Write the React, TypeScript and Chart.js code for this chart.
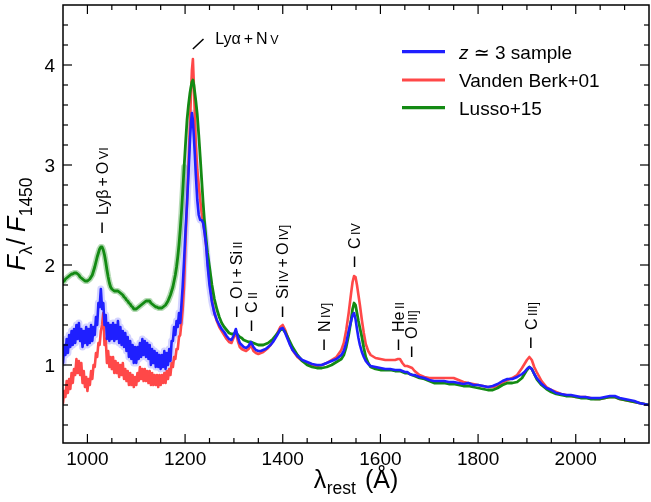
import React, { useEffect, useRef } from 'react';
import { Chart, registerables } from 'chart.js';

Chart.register(...registerables);

const FONT = '"Liberation Sans", Arial, "DejaVu Sans", sans-serif';

// rest-frame wavelength grid (Å)
const wavelengths = [
  950, 952.5, 955, 957.5, 960, 962.5, 965, 967.5, 970, 972.5,
  975, 977.5, 980, 982.5, 985, 987.5, 990, 992.5, 995, 997.5,
  1000, 1002.5, 1005, 1007.5, 1010, 1012.5, 1015, 1017.5, 1020, 1022.5,
  1025, 1027.5, 1030, 1032.5, 1035, 1037.5, 1040, 1042.5, 1045, 1047.5,
  1050, 1052.5, 1055, 1057.5, 1060, 1062.5, 1065, 1067.5, 1070, 1072.5,
  1075, 1077.5, 1080, 1082.5, 1085, 1087.5, 1090, 1092.5, 1095, 1097.5,
  1100, 1102.5, 1105, 1107.5, 1110, 1112.5, 1115, 1117.5, 1120, 1122.5,
  1125, 1127.5, 1130, 1132.5, 1135, 1137.5, 1140, 1142.5, 1145, 1147.5,
  1150, 1152.5, 1155, 1157.5, 1160, 1162.5, 1165, 1167.5, 1170, 1172.5,
  1175, 1177.5, 1180, 1182.5, 1185, 1187.5, 1190, 1192.5, 1195,
  1198, 1201, 1204, 1207, 1210, 1212, 1214, 1216, 1218, 1220,
  1222, 1225, 1228, 1231, 1234, 1237, 1240, 1243, 1246, 1250,
  1255, 1260, 1265, 1270, 1275, 1280, 1285, 1290, 1295, 1300,
  1304, 1308, 1312, 1316, 1320, 1325, 1330, 1335, 1340, 1345,
  1350, 1355, 1360, 1365, 1370, 1375, 1380, 1385, 1390, 1395,
  1400, 1405, 1410, 1415, 1420, 1430, 1440, 1450, 1460, 1470,
  1480, 1490, 1500, 1510, 1520, 1525, 1530, 1535, 1540, 1543,
  1546, 1549, 1552, 1555, 1558, 1562, 1566, 1570, 1575, 1580,
  1590, 1600, 1610, 1620, 1630, 1636, 1640, 1645, 1650, 1655,
  1660, 1665, 1670, 1680, 1690, 1700, 1710, 1720, 1730, 1740,
  1750, 1760, 1770, 1780, 1790, 1800, 1810, 1820, 1830, 1840,
  1850, 1860, 1870, 1880, 1890, 1895, 1900, 1905, 1910, 1915,
  1920, 1930, 1940, 1950, 1960, 1970, 1980, 1990, 2000, 2010,
  2020, 2030, 2040, 2050, 2060, 2070, 2080, 2090, 2100, 2110,
  2120, 2130, 2140, 2150,
];

// z ~ 3 sample composite
const zSample = [
  1.02, 1.20, 1.10, 1.26, 1.12, 1.30, 1.18, 1.34, 1.20, 1.36,
  1.22, 1.40, 1.26, 1.42, 1.24, 1.36, 1.18, 1.34, 1.22, 1.38,
  1.20, 1.36, 1.22, 1.40, 1.24, 1.38, 1.30, 1.48, 1.40, 1.62,
  1.58, 1.76, 1.56, 1.62, 1.40, 1.50, 1.26, 1.42, 1.24, 1.40,
  1.26, 1.42, 1.24, 1.40, 1.26, 1.44, 1.22, 1.38, 1.20, 1.34,
  1.18, 1.32, 1.14, 1.28, 1.08, 1.24, 1.06, 1.20, 1.02, 1.18,
  1.02, 1.18, 1.06, 1.22, 1.08, 1.26, 1.10, 1.24, 1.08, 1.22,
  1.06, 1.20, 1.00, 1.16, 1.02, 1.14, 0.98, 1.12, 0.98, 1.10,
  0.96, 1.10, 0.98, 1.14, 0.96, 1.12, 1.00, 1.16, 1.04, 1.24,
  1.24, 1.38, 1.30, 1.44, 1.38, 1.52, 1.42, 1.60, 1.78,
  2.05, 2.35, 2.62, 2.92, 3.25, 3.42, 3.52, 3.45, 3.28, 3.10,
  2.90, 2.65, 2.50, 2.45, 2.45, 2.42, 2.32, 2.20, 2.00, 1.80,
  1.63, 1.52, 1.45, 1.40, 1.36, 1.33, 1.29, 1.26, 1.25, 1.30,
  1.36, 1.28, 1.22, 1.20, 1.18, 1.17, 1.19, 1.23, 1.18, 1.15,
  1.14, 1.14, 1.15, 1.16, 1.18, 1.20, 1.23, 1.27, 1.31, 1.36,
  1.37, 1.32, 1.26, 1.20, 1.15, 1.09, 1.05, 1.03, 1.01, 1.00,
  1.00, 1.02, 1.04, 1.06, 1.10, 1.14, 1.22, 1.34, 1.44, 1.50,
  1.52, 1.46, 1.36, 1.27, 1.20, 1.13, 1.08, 1.04, 1.01, 0.99,
  0.98, 0.97, 0.96, 0.96, 0.95, 0.95, 0.95, 0.94, 0.93, 0.93,
  0.91, 0.90, 0.90, 0.88, 0.87, 0.85, 0.84, 0.84, 0.84, 0.83,
  0.83, 0.82, 0.81, 0.82, 0.80, 0.80, 0.79, 0.78, 0.79, 0.81,
  0.84, 0.86, 0.86, 0.88, 0.91, 0.93, 0.96, 0.98, 0.96, 0.91,
  0.87, 0.81, 0.77, 0.75, 0.72, 0.71, 0.70, 0.70, 0.69, 0.68,
  0.68, 0.67, 0.67, 0.67, 0.68, 0.69, 0.69, 0.67, 0.66, 0.65,
  0.64, 0.62, 0.61, 0.60,
];

// Vanden Berk et al. (2001) composite
const vandenBerk = [
  0.62, 0.74, 0.68, 0.84, 0.72, 0.86, 0.76, 0.92, 0.82, 0.96,
  0.90, 1.06, 0.92, 1.04, 0.90, 1.02, 0.82, 0.94, 0.78, 0.88,
  0.74, 0.86, 0.80, 0.94, 0.86, 1.00, 0.98, 1.12, 1.08, 1.22,
  1.20, 1.34, 1.40, 1.52, 1.20, 1.26, 1.02, 1.14, 0.98, 1.08,
  0.96, 1.08, 0.92, 1.04, 0.92, 1.02, 0.88, 1.00, 0.90, 1.02,
  0.86, 0.96, 0.84, 0.94, 0.80, 0.92, 0.80, 0.90, 0.78, 0.88,
  0.80, 0.92, 0.84, 0.98, 0.86, 0.96, 0.84, 0.96, 0.84, 0.94,
  0.82, 0.94, 0.80, 0.92, 0.80, 0.90, 0.80, 0.90, 0.78, 0.90,
  0.80, 0.90, 0.82, 0.92, 0.82, 0.94, 0.86, 0.96, 0.90, 1.02,
  0.98, 1.08, 1.06, 1.16, 1.16, 1.28, 1.30, 1.42, 1.55,
  1.80, 2.25, 2.62, 3.00, 3.40, 3.70, 3.95, 4.06, 3.80, 3.50,
  3.20, 2.95, 2.80, 2.65, 2.52, 2.42, 2.33, 2.20, 2.05, 1.85,
  1.65, 1.52, 1.44, 1.38, 1.34, 1.30, 1.26, 1.23, 1.22, 1.28,
  1.33, 1.24, 1.18, 1.16, 1.15, 1.14, 1.16, 1.20, 1.14, 1.12,
  1.11, 1.12, 1.13, 1.15, 1.17, 1.20, 1.24, 1.28, 1.33, 1.38,
  1.40, 1.35, 1.28, 1.21, 1.15, 1.08, 1.04, 1.02, 1.00, 0.99,
  1.00, 1.02, 1.05, 1.08, 1.15, 1.22, 1.35, 1.52, 1.72, 1.83,
  1.89, 1.88, 1.80, 1.70, 1.60, 1.45, 1.32, 1.21, 1.14, 1.10,
  1.07, 1.06, 1.05, 1.05, 1.05, 1.06, 1.06, 1.02, 0.99, 0.99,
  0.98, 0.97, 0.94, 0.90, 0.88, 0.87, 0.87, 0.87, 0.87, 0.87,
  0.87, 0.85, 0.83, 0.82, 0.81, 0.80, 0.79, 0.78, 0.78, 0.79,
  0.82, 0.85, 0.87, 0.90, 0.97, 1.01, 1.05, 1.08, 1.05, 0.98,
  0.93, 0.84, 0.78, 0.75, 0.73, 0.71, 0.70, 0.69, 0.68, 0.68,
  0.68, 0.67, 0.66, 0.66, 0.67, 0.68, 0.68, 0.66, 0.65, 0.64,
  0.63, 0.62, 0.61, 0.60,
];

// Lusso et al. (2015) composite
const lusso = [
  1.83, 1.84, 1.86, 1.87, 1.88, 1.89, 1.90, 1.91, 1.91, 1.92,
  1.92, 1.92, 1.91, 1.90, 1.88, 1.87, 1.86, 1.85, 1.84, 1.84,
  1.84, 1.85, 1.86, 1.88, 1.90, 1.94, 1.98, 2.03, 2.08, 2.12,
  2.16, 2.18, 2.18, 2.15, 2.10, 2.03, 1.95, 1.88, 1.82, 1.78,
  1.76, 1.75, 1.74, 1.74, 1.74, 1.74, 1.73, 1.72, 1.71, 1.70,
  1.68, 1.67, 1.65, 1.64, 1.62, 1.61, 1.59, 1.58, 1.56, 1.56,
  1.56, 1.57, 1.58, 1.59, 1.60, 1.61, 1.62, 1.63, 1.64, 1.64,
  1.64, 1.64, 1.62, 1.61, 1.60, 1.59, 1.58, 1.58, 1.57, 1.57,
  1.57, 1.57, 1.58, 1.59, 1.60, 1.62, 1.64, 1.67, 1.70, 1.74,
  1.78, 1.84, 1.90, 1.98, 2.08, 2.20, 2.35, 2.52, 2.72,
  2.98, 3.22, 3.45, 3.60, 3.72, 3.78, 3.83, 3.85, 3.80, 3.72,
  3.64, 3.50, 3.30, 3.08, 2.85, 2.62, 2.42, 2.26, 2.12, 1.98,
  1.80, 1.66, 1.56, 1.48, 1.42, 1.38, 1.35, 1.32, 1.31, 1.31,
  1.33, 1.30, 1.28, 1.27, 1.25, 1.24, 1.23, 1.23, 1.22, 1.21,
  1.20, 1.20, 1.20, 1.21, 1.22, 1.24, 1.26, 1.29, 1.32, 1.35,
  1.36, 1.33, 1.28, 1.23, 1.18, 1.10, 1.04, 1.00, 0.98, 0.97,
  0.97, 0.98, 1.00, 1.03, 1.06, 1.10, 1.18, 1.30, 1.45, 1.56,
  1.62, 1.60, 1.52, 1.44, 1.37, 1.28, 1.17, 1.08, 1.02, 0.98,
  0.96, 0.95, 0.95, 0.95, 0.94, 0.94, 0.94, 0.93, 0.92, 0.92,
  0.91, 0.90, 0.89, 0.87, 0.86, 0.84, 0.82, 0.82, 0.82, 0.81,
  0.81, 0.80, 0.79, 0.79, 0.78, 0.77, 0.76, 0.75, 0.75, 0.77,
  0.80, 0.82, 0.82, 0.83, 0.87, 0.91, 0.95, 0.98, 0.96, 0.91,
  0.86, 0.80, 0.76, 0.73, 0.71, 0.70, 0.69, 0.69, 0.68, 0.67,
  0.67, 0.66, 0.66, 0.66, 0.67, 0.68, 0.68, 0.66, 0.65, 0.64,
  0.63, 0.62, 0.61, 0.60,
];

const xTickValues = [1000, 1200, 1400, 1600, 1800, 2000];
const yTickValues = [1, 2, 3, 4];
const X_MIN = 950, X_MAX = 2150, Y_MIN = 0.22, Y_MAX = 4.6;

// emission-line annotations
const lineLabels = ['Lyβ + O VI', 'O I + Si II', 'C II', 'Si IV + O IV]', 'N IV]', 'C IV', 'He II', 'O III]', 'C III]'];
const lineWaves = [1030, 1305.7, 1336, 1399.6, 1484.6, 1547, 1637, 1664, 1908];
const lineFluxes = [2.32, 1.48, 1.34, 1.48, 1.15, 1.98, 1.15, 1.08, 1.17];
const lyaLabel = 'Lyα + N V';
const lyaWave = 1216;
const lyaFlux = 4.16;

const legendLabels = ['z ≃ 3 sample', 'Vanden Berk+01', 'Lusso+15'];
const BLUE = '#1f1fff';
const RED = '#ff4848';
const GREEN = '#138a13';
const legendColors = [BLUE, RED, GREEN];

type Seg = { t: string; size: number; italic?: boolean; dy?: number; gap?: number };

const fontOf = (s: Seg) => `${s.italic ? 'italic ' : ''}${s.size}px ${FONT}`;

function measureSegs(ctx: CanvasRenderingContext2D, segs: Seg[]) {
  let w = 0;
  for (const s of segs) {
    ctx.font = fontOf(s);
    w += (s.gap || 0) + ctx.measureText(s.t).width;
  }
  return w;
}

function drawSegs(ctx: CanvasRenderingContext2D, segs: Seg[], x: number, y: number) {
  let cx = x;
  for (const s of segs) {
    cx += s.gap || 0;
    ctx.font = fontOf(s);
    ctx.fillText(s.t, cx, y + (s.dy || 0));
    cx += ctx.measureText(s.t).width;
  }
}

function labelSegs(label: string, big = 16, small = 12.5): Seg[] {
  const toks = label.split(' ');
  const segs: Seg[] = [];
  toks.forEach((tk, i) => {
    const isNum = /^[IVX]+\]?$/.test(tk);
    if (tk === '+') segs.push({ t: '+', size: big, gap: 3 });
    else if (isNum) segs.push({ t: tk, size: small, gap: 2.5 });
    else segs.push({ t: tk, size: big, gap: i === 0 ? 0 : 3 });
  });
  return segs;
}

const decorPlugin = {
  id: 'decor',
  afterDraw(chart: any) {
    const { ctx, chartArea: a, scales } = chart;
    const xs = scales.x, ys = scales.y;
    ctx.save();
    ctx.fillStyle = '#000';
    ctx.strokeStyle = '#000';
    ctx.textAlign = 'left';
    ctx.textBaseline = 'alphabetic';

    // frame
    ctx.lineWidth = 1.5;
    ctx.strokeRect(a.left, a.top, a.right - a.left, a.bottom - a.top);

    // inward ticks on all four sides
    ctx.lineWidth = 1.2;
    const seg = (x1: number, y1: number, x2: number, y2: number) => {
      ctx.beginPath();
      ctx.moveTo(x1, y1);
      ctx.lineTo(x2, y2);
      ctx.stroke();
    };
    for (let v = X_MIN + 50; v < X_MAX; v += 50) {
      const px = xs.getPixelForValue(v);
      const L = xTickValues.includes(v) ? 9 : 5;
      seg(px, a.bottom, px, a.bottom - L);
      seg(px, a.top, px, a.top + L);
    }
    for (let k = 2; k <= 22; k++) {
      const v = k * 0.2;
      const py = ys.getPixelForValue(v);
      const major = Math.abs(v - Math.round(v)) < 1e-6;
      const L = major ? 9 : 5;
      seg(a.left, py, a.left + L, py);
      seg(a.right, py, a.right - L, py);
    }

    // tick labels
    ctx.font = `19px ${FONT}`;
    ctx.textAlign = 'center';
    xTickValues.forEach((v) => {
      ctx.fillText(String(v), xs.getPixelForValue(v), a.bottom + 21.5);
    });
    ctx.textAlign = 'right';
    yTickValues.forEach((v) => {
      ctx.fillText(String(v), a.left - 8, ys.getPixelForValue(v) + 6.8);
    });
    ctx.textAlign = 'left';

    // emission-line labels (rotated)
    ctx.lineWidth = 1.5;
    lineLabels.forEach((lab, i) => {
      const px = xs.getPixelForValue(lineWaves[i]);
      const py = ys.getPixelForValue(lineFluxes[i]);
      seg(px, py, px, py - 10.5);
      ctx.save();
      ctx.translate(px, py - 10.5 - 7.5);
      ctx.rotate(-Math.PI / 2);
      drawSegs(ctx, labelSegs(lab), 0, 16 * 0.358);
      ctx.restore();
    });

    // Lyα label
    {
      const px = xs.getPixelForValue(lyaWave);
      const py = ys.getPixelForValue(lyaFlux);
      seg(px, py, px + 10.6, py - 10);
      drawSegs(ctx, labelSegs(lyaLabel), px + 22.3, py - 5.5);
    }

    // legend
    const legY = [51.7, 80, 107.7];
    legendLabels.forEach((lab, i) => {
      ctx.strokeStyle = legendColors[i];
      ctx.lineWidth = 3.2;
      seg(402, legY[i], 445, legY[i]);
      const base = legY[i] + 19 * 0.36;
      if (i === 0) {
        drawSegs(ctx, [
          { t: 'z', size: 19, italic: true },
          { t: ' ≃ ', size: 19 },
          { t: '3 sample', size: 19 },
        ], 459, base);
      } else {
        drawSegs(ctx, [{ t: lab, size: 19 }], 459, base);
      }
    });

    // y-axis title: F_λ / F_1450
    const ySegs: Seg[] = [
      { t: 'F', size: 25, italic: true },
      { t: 'λ', size: 17.5, dy: 7, gap: 0.5 },
      { t: '/', size: 25, gap: 1 },
      { t: 'F', size: 25, italic: true, gap: 6 },
      { t: '1450', size: 17.5, dy: 7, gap: 0.5 },
    ];
    const yw = measureSegs(ctx, ySegs);
    const cy = (a.top + a.bottom) / 2;
    ctx.save();
    ctx.translate(25, cy + yw / 2);
    ctx.rotate(-Math.PI / 2);
    drawSegs(ctx, ySegs, 0, 0);
    ctx.restore();

    // x-axis title: λ_rest (Å)
    const xSegs: Seg[] = [
      { t: 'λ', size: 25 },
      { t: 'rest', size: 17.5, dy: 6, gap: 0.5 },
      { t: '(Å)', size: 25, gap: 9 },
    ];
    const xw = measureSegs(ctx, xSegs);
    const cx = (a.left + a.right) / 2;
    drawSegs(ctx, xSegs, cx - xw / 2, 488);

    ctx.restore();
  },
};

export default function App() {
  const ref = useRef<HTMLCanvasElement | null>(null);

  useEffect(() => {
    document.body.style.margin = '0';
    const canvas = ref.current;
    if (!canvas) return;
    const pts = (arr: number[]) => wavelengths.map((w, i) => ({ x: w, y: arr[i] }));
    const below = (arr: number[], lim: number) => pts(arr).filter((p) => p.x <= lim);

    const base = {
      pointRadius: 0,
      tension: 0,
      fill: false,
      borderJoinStyle: 'round' as const,
      borderCapStyle: 'round' as const,
    };

    const zeroPad = (s: any) => {
      s.paddingTop = 0;
      s.paddingBottom = 0;
      s.paddingLeft = 0;
      s.paddingRight = 0;
    };

    const chart = new Chart(canvas, {
      type: 'line',
      data: {
        datasets: [
          { ...base, label: legendLabels[0], data: pts(zSample), borderColor: BLUE, borderWidth: 2.6 },
          { ...base, label: legendLabels[2], data: pts(lusso), borderColor: GREEN, borderWidth: 2.8 },
          { ...base, label: legendLabels[1], data: pts(vandenBerk), borderColor: RED, borderWidth: 2.6 },
          { ...base, label: 'z band', data: below(zSample, 1260), borderColor: 'rgba(100,100,255,0.28)', borderWidth: 7 },
          { ...base, label: 'L band', data: below(lusso, 1200), borderColor: 'rgba(40,150,40,0.35)', borderWidth: 6 },
        ],
      },
      options: {
        responsive: false,
        animation: false,
        layout: { padding: { top: 5, right: 2, left: 0, bottom: 0 } },
        plugins: { legend: { display: false }, tooltip: { enabled: false }, title: { display: false } },
        scales: {
          x: {
            type: 'linear',
            min: X_MIN,
            max: X_MAX,
            afterFit: (s: any) => { s.height = 59; zeroPad(s); },
            grid: { display: false, drawTicks: false },
            border: { display: false },
            ticks: { display: false },
          },
          y: {
            type: 'linear',
            min: Y_MIN,
            max: Y_MAX,
            afterFit: (s: any) => { s.width = 63; zeroPad(s); },
            grid: { display: false, drawTicks: false },
            border: { display: false },
            ticks: { display: false },
          },
        },
      },
      plugins: [decorPlugin],
    });
    return () => chart.destroy();
  }, []);

  return <canvas ref={ref} width={651} height={502} style={{ display: 'block' }} />;
}
